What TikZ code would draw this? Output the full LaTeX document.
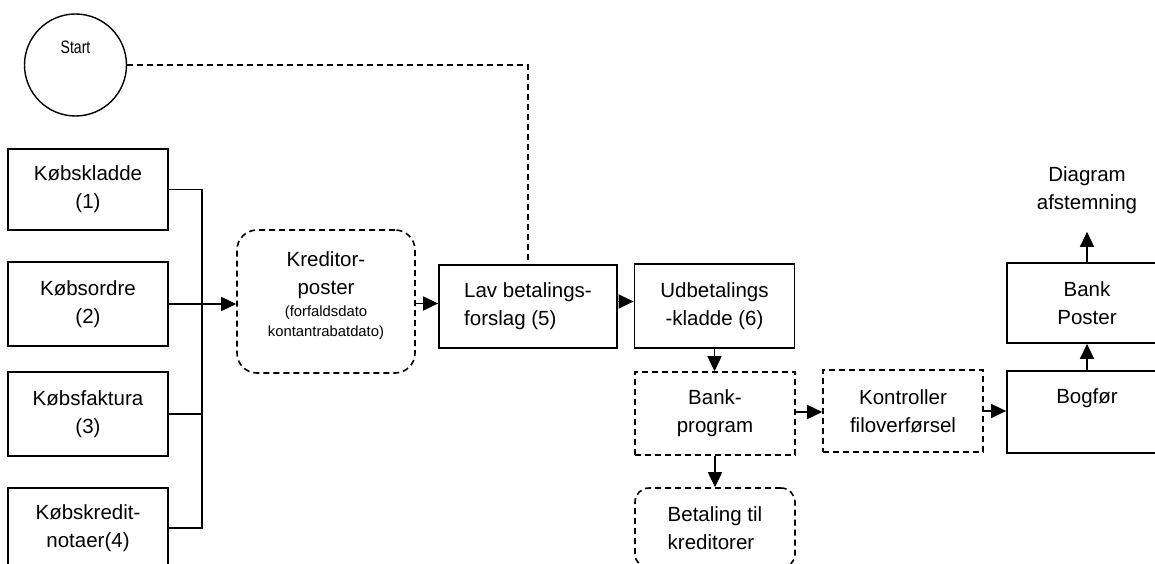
\documentclass[tikz,border=0pt]{standalone}
\usepackage{fontspec}
\setmainfont{Liberation Sans}
\usetikzlibrary{arrows.meta}
\newcommand\mainfs{\fontsize{20.5}{28}\selectfont}
\newcommand\smallfs{\fontsize{14.8}{19.5}\selectfont}
\tikzset{
  box/.style={draw, line width=1.8pt, minimum width=160pt, minimum height=84pt, inner sep=0pt, align=center, font=\mainfs},
  dbox/.style={box, dash pattern=on 6pt off 4pt, line width=1.6pt},
  rbox/.style={dbox, rounded corners=14pt},
  txt/.style={inner sep=0pt, align=center, font=\mainfs},
  conn/.style={line width=1.6pt},
  arr/.style={conn, -{Triangle[length=15pt,width=14pt]}},
}
\begin{document}
\begin{tikzpicture}[x=1pt,y=-1pt]
\path[use as bounding box, clip] (0,0) rectangle (1155,564);
% start
\node[draw, circle, line width=1.4pt, minimum size=102pt, inner sep=0pt] (start) at (75.5,65) {};
\node[inner sep=0pt, anchor=base] (startt) at (75.5,54) {\scalebox{0.78}[1]{\fontsize{18}{18}\selectfont Start}};
% left boxes
\node[box, minimum height=81pt] (b1) at (88,189.5) {Købskladde\\(1)};
\node[box] (b2) at (88,304) {Købsordre\\(2)};
\node[box] (b3) at (88,414) {Købsfaktura\\(3)};
\node[box, minimum height=80pt] (b4) at (88,528) {Købskredit-\\notaer(4)};
\coordinate (bb) at (202,528);
% kreditor
\node[rbox, minimum width=178pt, minimum height=143pt, rounded corners=20pt] (kred) at (326,301.5) {};
\node[txt] (kt1) at (326,275.5) {Kreditor-\\poster};
\node[txt, font=\smallfs] (kt2) at (326,322.9) {(forfaldsdato\\kontantrabatdato)};
% middle
\node[box, minimum width=178pt, minimum height=83pt, align=left] (lav) at (528,306.5) {Lav betalings-\\forslag (5)};
\node[box] (udb) at (714.5,306) {Udbetalings\\-kladde (6)};
\node[dbox, minimum height=83pt] (bank) at (715,413.5) {Bank-\\program};
\node[rbox, minimum height=80pt, align=left] (bet) at (715,528) {Betaling til\\kreditorer};
\node[dbox, minimum height=82pt] (kon) at (903,411) {Kontroller\\filoverførsel};
% right
\node[box, minimum height=82pt] (bog) at (1087,412) {};
\node[txt, anchor=base] (bogt) at (1087,403) {Bogfør};
\node[box, minimum height=80pt] (bp) at (1087,303) {Bank\\Poster};
\node[txt] (diag) at (1087,190.5) {Diagram\\afstemning};
% connectors
\draw[conn, line width=1.4pt, dash pattern=on 6pt off 4pt] (start.east) -| (lav.north);
\draw[conn] (b1.east) -| (bb) -- (b4.east);
\draw[conn] (b2.east) -- (b2.east -| bb);
\draw[conn] (b3.east) -- (b3.east -| bb);
\draw[arr] (b2.east -| bb) -- (kred.west |- b2.east);
\draw[arr] ([yshift=-2pt]kred.east) -- ([yshift=-2pt]kred.east -| lav.west);
\draw[arr] ([yshift=5pt]lav.east) -- ([yshift=5pt]lav.east -| udb.west);
\draw[arr] (udb.south) -- (udb.south |- bank.north);
\draw[arr] (bank.south) -- (bet.north);
\draw[arr] ([yshift=1.5pt]bank.east) -- ([yshift=1.5pt]bank.east -| kon.west);
\draw[arr] (kon.east) -- (kon.east -| bog.west);
\draw[arr] (bog.north) -- (bp.south);
\draw[arr, shorten >=17.6pt] (bp.north) -- (diag.south);
\end{tikzpicture}
\end{document}
